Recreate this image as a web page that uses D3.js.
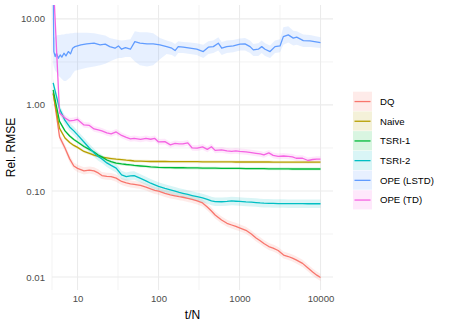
<!DOCTYPE html>
<html>
<head>
<meta charset="utf-8">
<script src="https://cdn.jsdelivr.net/npm/d3@7"></script>
<style>
  body { margin: 0; background: #fff; }
  text { font-family: "Liberation Sans", Arial, sans-serif; }
</style>
</head>
<body>
<svg width="449" height="326"></svg>
<script>
// ---- data ----
var tGrid = [5, 6, 7, 8, 9, 10, 12, 14, 16, 18, 20, 23, 26, 30, 35, 40, 45, 50, 60, 70, 80, 90,
  100, 120, 140, 160, 180, 200, 230, 260, 300, 350, 400, 450, 500, 600, 700, 800, 900,
  1000, 1200, 1400, 1600, 1800, 2000, 2300, 2600, 3000, 3500, 4000, 4500, 5000, 6000, 7000, 8000, 9000, 10000];

var dq = [1.4, 0.425, 0.316, 0.236, 0.195, 0.183, 0.171, 0.175, 0.171, 0.162, 0.151, 0.148, 0.147, 0.141,
  0.129, 0.124, 0.121, 0.119, 0.116, 0.111, 0.1055, 0.1014, 0.0993, 0.0935, 0.0898, 0.0879, 0.0859, 0.0845,
  0.0818, 0.0797, 0.0765, 0.0725, 0.0651, 0.0585, 0.0526, 0.0460, 0.0421, 0.0402, 0.0387, 0.0373, 0.0349,
  0.0316, 0.0284, 0.0264, 0.0245, 0.0226, 0.0217, 0.0203, 0.0180, 0.0173, 0.0166, 0.0158, 0.0144, 0.0127,
  0.0114, 0.0105, 0.00987];

var naive = [1.35, 0.533, 0.413, 0.366, 0.338, 0.321, 0.288, 0.273, 0.261, 0.253, 0.247, 0.242, 0.238, 0.234,
  0.231, 0.228, 0.226, 0.223, 0.222, 0.221, 0.220, 0.220, 0.220, 0.220, 0.219, 0.219, 0.219, 0.219,
  0.219, 0.219, 0.219, 0.218, 0.218, 0.218, 0.218, 0.218, 0.218, 0.218, 0.217, 0.217, 0.217, 0.217,
  0.217, 0.217, 0.217, 0.217, 0.216, 0.216, 0.216, 0.216, 0.216, 0.216, 0.216, 0.216, 0.216, 0.216, 0.216];

var tsri1 = [1.5, 0.643, 0.499, 0.436, 0.397, 0.371, 0.329, 0.304, 0.284, 0.262, 0.249, 0.229, 0.219, 0.211,
  0.206, 0.203, 0.201, 0.198, 0.195, 0.193, 0.190, 0.189, 0.188, 0.187, 0.187, 0.186, 0.186, 0.186,
  0.185, 0.185, 0.185, 0.184, 0.184, 0.184, 0.184, 0.183, 0.183, 0.183, 0.183, 0.183, 0.182, 0.182,
  0.182, 0.182, 0.182, 0.181, 0.181, 0.181, 0.181, 0.181, 0.180, 0.180, 0.180, 0.180, 0.180, 0.180, 0.180];

var tsri2 = [1.8, 0.899, 0.660, 0.555, 0.499, 0.448, 0.371, 0.316, 0.277, 0.252, 0.236, 0.212, 0.198, 0.184,
  0.1535, 0.1467, 0.150, 0.151, 0.140, 0.131, 0.123, 0.1175, 0.1128, 0.107, 0.1027, 0.0993, 0.0962, 0.094,
  0.091, 0.0885, 0.0857, 0.0829, 0.0797, 0.0765, 0.0751, 0.0749, 0.0755, 0.0765, 0.0759, 0.0755, 0.0745,
  0.0740, 0.0733, 0.0725, 0.0721, 0.0719, 0.0716, 0.0714, 0.0713, 0.0712, 0.0712, 0.0711, 0.0711, 0.0710,
  0.0710, 0.0710, 0.0710];

var td = [30, 0.807, 0.706, 0.652, 0.660, 0.678, 0.585, 0.578, 0.526, 0.512, 0.499, 0.472, 0.460, 0.485,
  0.442, 0.419, 0.403, 0.408, 0.397, 0.408, 0.399, 0.408, 0.371, 0.374, 0.343, 0.357, 0.352, 0.352,
  0.362, 0.316, 0.314, 0.325, 0.304, 0.327, 0.296, 0.300, 0.292, 0.288, 0.292, 0.288, 0.284, 0.279,
  0.274, 0.269, 0.262, 0.277, 0.259, 0.252, 0.255, 0.252, 0.249, 0.240, 0.240, 0.226, 0.232, 0.234, 0.234];

// OPE (LSTD) is much noisier, so it has its own checkpoints and band
var tLstd = [5, 5.1, 5.3, 5.5, 5.8, 6.1, 6.4, 6.8, 7.2, 7.7, 8.2, 8.7, 9.3, 11, 13, 16, 19, 22, 25, 29,
  32, 35, 39, 45, 51, 59, 72, 86, 104, 126, 146, 160, 175, 202, 245, 296, 357, 412, 475, 547,
  603, 695, 838, 1014, 1169, 1349, 1481, 1707, 1880, 2065, 2381, 2742, 3162, 3475, 4000, 4614, 5080, 6134, 7413, 10000];
var lstd = [30, 4.17, 3.65, 3.99, 3.49, 3.81, 3.59, 3.99, 3.71, 4.17, 3.92, 4.56, 4.76, 4.99, 5.12, 5.22, 4.99, 5.08, 4.76, 4.56,
  4.85, 4.44, 4.64, 4.44, 5.45, 5.22, 5.12, 5.12, 4.99, 4.76, 4.56, 4.28, 4.76, 4.69, 4.56, 4.44, 4.17, 4.69, 4.76, 5.22,
  4.56, 4.76, 4.85, 5.08, 5.12, 4.76, 4.36, 4.44, 4.76, 4.44, 4.17, 4.76, 4.85, 6.22, 6.52, 5.97, 6.13, 5.59, 5.55, 5.30];
var lstdLo = [3, 2.8, 2.5, 2.4, 2.2, 2.1, 2.0, 1.9, 1.9, 2.0, 2.1, 2.3, 2.5, 2.6, 2.7, 2.8, 2.9, 3.0, 3.2, 3.4,
  3.5, 3.5, 3.6, 3.6, 3.2, 2.9, 2.8, 2.9, 3.4, 3.9, 3.8, 3.6, 4.0, 4.0, 3.9, 3.8, 3.5, 3.9, 4.0, 4.3,
  3.8, 4.0, 4.1, 4.3, 4.3, 4.0, 3.7, 3.7, 4.0, 3.7, 3.5, 4.0, 4.1, 5.0, 5.3, 4.9, 5.0, 4.7, 4.7, 4.6];
var lstdHi = [30, 6.0, 6.2, 6.4, 6.5, 6.5, 6.6, 6.6, 6.7, 6.7, 6.8, 6.8, 6.9, 6.9, 6.9, 6.8, 6.6, 6.4, 6.0, 5.8,
  5.7, 5.6, 5.7, 5.8, 7.2, 7.0, 7.0, 6.8, 6.0, 5.6, 5.4, 5.1, 5.5, 5.4, 5.3, 5.2, 5.0, 5.5, 5.6, 6.1,
  5.4, 5.6, 5.7, 5.9, 6.0, 5.6, 5.1, 5.2, 5.6, 5.2, 4.9, 5.6, 5.8, 8.0, 8.2, 7.3, 7.2, 6.6, 6.5, 6.1];

var seriesNames = ['DQ', 'Naive', 'TSRI-1', 'TSRI-2', 'OPE (LSTD)', 'OPE (TD)'];
var seriesColors = ['#F8766D', '#B79F00', '#00BA38', '#00BFC4', '#619CFF', '#F564E3'];
var bandFactor = [1.1, 1.04, 1.04, 1.12, 1, 1.08];

var xTicks = [10, 100, 1000, 10000];
var xMinor = [31.6, 316, 3162];
var yTicks = [0.01, 0.1, 1, 10];
var yTickLabels = ['0.01', '0.10', '1.00', '10.00'];
var yMinor = [0.0316, 0.316, 3.16];

// ---- layout ----
var svg = d3.select('svg');
var panel = {l: 52, r: 333, t: 5, b: 290};

var xScale = d3.scaleLog().domain([4.84, 14260]).range([panel.l, panel.r]);
var yScale = d3.scaleLog().domain([0.00706, 14.5]).range([panel.b, panel.t]);

// build series objects
var smooth = [dq, naive, tsri1, tsri2];
var series = seriesNames.map(function(name, i) {
    var pts;
    if (name === 'OPE (LSTD)') {
        pts = tLstd.map(function(t, j) { return {t: t, v: lstd[j], lo: lstdLo[j], hi: lstdHi[j]}; });
    } else {
        var vals = i < 4 ? smooth[i] : td;
        pts = tGrid.map(function(t, j) {
            return {t: t, v: vals[j], lo: vals[j] / bandFactor[i], hi: vals[j] * bandFactor[i]};
        });
    }
    return {name: name, color: seriesColors[i], pts: pts};
});

// grid
var grid = svg.append('g');
grid.selectAll('.ymin').data(yMinor).enter().append('line')
    .attr('x1', panel.l).attr('x2', panel.r)
    .attr('y1', d => yScale(d)).attr('y2', d => yScale(d))
    .attr('stroke', '#ebebeb').attr('stroke-width', 0.6);
grid.selectAll('.xmin').data(xMinor).enter().append('line')
    .attr('y1', panel.t).attr('y2', panel.b)
    .attr('x1', d => xScale(d)).attr('x2', d => xScale(d))
    .attr('stroke', '#ebebeb').attr('stroke-width', 0.6);
grid.append('line')
    .attr('x1', panel.l).attr('x2', panel.l).attr('y1', panel.t).attr('y2', panel.b)
    .attr('stroke', '#ebebeb').attr('stroke-width', 0.6);
grid.selectAll('.ymaj').data(yTicks).enter().append('line')
    .attr('x1', panel.l).attr('x2', panel.r)
    .attr('y1', d => yScale(d)).attr('y2', d => yScale(d))
    .attr('stroke', '#ebebeb').attr('stroke-width', 1.1);
grid.selectAll('.xmaj').data(xTicks).enter().append('line')
    .attr('y1', panel.t).attr('y2', panel.b)
    .attr('x1', d => xScale(d)).attr('x2', d => xScale(d))
    .attr('stroke', '#ebebeb').attr('stroke-width', 1.1);

svg.append('clipPath').attr('id', 'clip').append('rect')
    .attr('x', panel.l).attr('y', panel.t)
    .attr('width', panel.r - panel.l).attr('height', panel.b - panel.t);

var plot = svg.append('g').attr('clip-path', 'url(#clip)');

var area = d3.area().x(d => xScale(d.t)).y0(d => yScale(d.lo)).y1(d => yScale(d.hi));
var line = d3.line().x(d => xScale(d.t)).y(d => yScale(d.v));

plot.selectAll('.band').data(series).enter().append('path')
    .attr('d', d => area(d.pts))
    .attr('fill', d => d.color).attr('fill-opacity', 0.15);

plot.selectAll('.line').data(series).enter().append('path')
    .attr('d', d => line(d.pts))
    .attr('fill', 'none').attr('stroke', d => d.color)
    .attr('stroke-width', 1.3).attr('stroke-linejoin', 'round');

// axes (text only, theme_minimal style)
var xAxis = d3.axisBottom(xScale).tickValues(xTicks).tickFormat(d3.format('d')).tickSize(0).tickPadding(5);
var yAxis = d3.axisLeft(yScale).tickValues(yTicks).tickFormat((d, i) => yTickLabels[i]).tickSize(0).tickPadding(5);

var gx = svg.append('g').attr('transform', 'translate(0,' + panel.b + ')').call(xAxis);
var gy = svg.append('g').attr('transform', 'translate(' + (panel.l - 2) + ',0)').call(yAxis);
[gx, gy].forEach(function(g) {
    g.select('.domain').remove();
    g.selectAll('text').attr('fill', '#4d4d4d').style('font-size', '9.6px')
        .style('font-family', '"Liberation Sans", Arial, sans-serif');
});

svg.append('text').attr('x', (panel.l + panel.r) / 2).attr('y', 319)
    .attr('text-anchor', 'middle').style('font-size', '12px').attr('fill', '#000').text('t/N');
svg.append('text').attr('transform', 'translate(15,' + ((panel.t + panel.b) / 2) + ') rotate(-90)')
    .attr('text-anchor', 'middle').style('font-size', '12px').attr('fill', '#000').text('Rel. RMSE');

// legend
var keyH = 19.7, keyW = 19;
var legend = svg.append('g').attr('transform', 'translate(353,91.7)');
var items = legend.selectAll('.item').data(series).enter().append('g')
    .attr('transform', (d, i) => 'translate(0,' + i * keyH + ')');
items.append('rect').attr('width', keyW).attr('height', keyH - 0.5)
    .attr('fill', d => d.color).attr('fill-opacity', 0.15);
items.append('line').attr('x1', 1.5).attr('x2', keyW - 1.5)
    .attr('y1', keyH / 2).attr('y2', keyH / 2)
    .attr('stroke', d => d.color).attr('stroke-width', 1.3);
items.append('text').attr('x', 27).attr('y', keyH / 2).attr('dy', '0.35em')
    .style('font-size', '9.6px').attr('fill', '#000').text(d => d.name);
</script>
</body>
</html>
